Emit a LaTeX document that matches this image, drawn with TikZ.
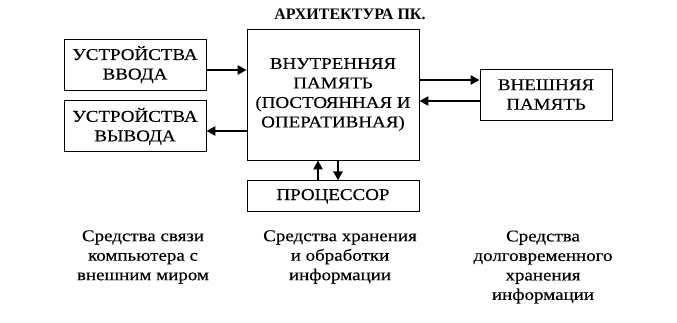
\documentclass[tikz,border=0pt]{standalone}
\usepackage{fontspec}
\setmainfont{Liberation Serif}
\newfontfamily\shirfont{Liberation Serif}[FakeStretch=1.15, FakeBold=0.35]
\usetikzlibrary{arrows.meta, positioning}

\begin{document}
\begin{tikzpicture}[
  x=1pt, y=-1pt,
  font=\shirfont\fontsize{16.5}{19.5}\selectfont, >={Triangle[length=9pt, width=9pt]},
  blok/.style={draw, line width=0.8pt, align=center, inner sep=0pt,
               minimum width=142pt, minimum height=51pt},
  potok/.style={->, line width=2.4pt},
  podpis/.style={align=center, inner sep=0pt},
]
  \useasboundingbox (0,0) rectangle (677,322);
  \node[font=\rmfamily\fontsize{16}{19.5}\selectfont\bfseries] (zag) at (350,14) {АРХИТЕКТУРА ПК.};

  \node[blok] (vvod) at (135,64.5) {УСТРОЙСТВА\\ ВВОДА};
  \node[blok, below=10pt of vvod] (vyvod) {УСТРОЙСТВА\\ ВЫВОДА};
  \node[blok, minimum width=172pt, minimum height=131pt] (pam) at (333,94.5)
    {ВНУТРЕННЯЯ\\ ПАМЯТЬ\\ (ПОСТОЯННАЯ И\\ ОПЕРАТИВНАЯ)};
  \node[blok, minimum width=172pt, minimum height=31pt, below=20pt of pam] (proc) {ПРОЦЕССОР};
  \node[blok, minimum width=132pt] (vnesh) at (546,94.5) {ВНЕШНЯЯ\\ ПАМЯТЬ};

  \draw[potok] (vvod.east |- 0,70) -- (pam.west |- 0,70);
  \draw[potok] (pam.west |- 0,131) -- (vyvod.east |- 0,131);
  \draw[potok] (pam.east |- 0,80) -- (vnesh.west |- 0,80);
  \draw[potok] (vnesh.west |- 0,101) -- (pam.east |- 0,101);
  \draw[potok] (proc.north -| 318,0) -- (pam.south -| 318,0);
  \draw[potok] (pam.south -| 338,0) -- (proc.north -| 338,0);

  \node[podpis] (svyaz) at (143,257) {Средства связи\\ компьютера с\\ внешним миром};
  \node[podpis] (hran) at (340,257) {Средства хранения\\ и обработки\\ информации};
  \node[podpis] (dolg) at (543,267) {Средства\\ долговременного\\ хранения\\ информации};
\end{tikzpicture}
\end{document}
